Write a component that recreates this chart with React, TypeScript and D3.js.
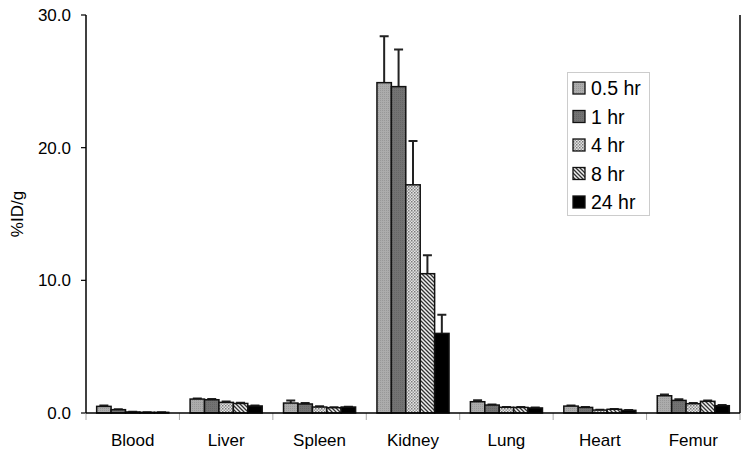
import React, { useEffect, useRef } from 'react';
import * as d3 from 'd3';

const organs = ['Blood', 'Liver', 'Spleen', 'Kidney', 'Lung', 'Heart', 'Femur'];
const times = ['0.5 hr', '1 hr', '4 hr', '8 hr', '24 hr'];

// mean %ID/g per organ, one array per time point
const hr05 = [0.5, 1.05, 0.75, 24.9, 0.85, 0.52, 1.3];
const hr1 = [0.25, 1.0, 0.68, 24.6, 0.6, 0.42, 0.95];
const hr4 = [0.08, 0.8, 0.45, 17.2, 0.43, 0.22, 0.7];
const hr8 = [0.05, 0.72, 0.4, 10.5, 0.42, 0.28, 0.88];
const hr24 = [0.05, 0.53, 0.45, 6.0, 0.38, 0.2, 0.55];

// standard deviations (upper error bar)
const sd05 = [0.07, 0.05, 0.2, 3.5, 0.12, 0.05, 0.1];
const sd1 = [0.03, 0.05, 0.08, 2.8, 0.05, 0.04, 0.08];
const sd4 = [0.01, 0.06, 0.05, 3.3, 0.03, 0.02, 0.06];
const sd8 = [0.01, 0.05, 0.04, 1.4, 0.03, 0.03, 0.07];
const sd24 = [0.01, 0.04, 0.03, 1.4, 0.03, 0.02, 0.05];

const means = [hr05, hr1, hr4, hr8, hr24];
const sds = [sd05, sd1, sd4, sd8, sd24];
const yTicks = [0, 10, 20, 30];
const fills = ['url(#p05)', 'url(#p1)', 'url(#p4)', 'url(#p8)', 'url(#p24)'];

const Chart = () => {
  const ref = useRef<SVGSVGElement | null>(null);

  useEffect(() => {
    if (!ref.current) return;
    const svg = d3.select(ref.current);
    svg.selectAll('*').remove();

    const left = 86, right = 740, top = 15, bottom = 413;
    const font = 'Liberation Sans, Arial, sans-serif';

    const defs = svg.append('defs');
    const p05 = defs.append('pattern').attr('id', 'p05').attr('patternUnits', 'userSpaceOnUse')
      .attr('width', 2).attr('height', 2);
    p05.append('rect').attr('width', 2).attr('height', 2).attr('fill', '#acacac');
    p05.append('rect').attr('width', 1).attr('height', 1).attr('fill', '#989898');

    const p1 = defs.append('pattern').attr('id', 'p1').attr('patternUnits', 'userSpaceOnUse')
      .attr('width', 2).attr('height', 2);
    p1.append('rect').attr('width', 2).attr('height', 2).attr('fill', '#737373');
    p1.append('rect').attr('width', 1).attr('height', 1).attr('fill', '#666');

    const p4 = defs.append('pattern').attr('id', 'p4').attr('patternUnits', 'userSpaceOnUse')
      .attr('width', 3).attr('height', 3);
    p4.append('rect').attr('width', 3).attr('height', 3).attr('fill', '#e4e4e4');
    p4.append('rect').attr('width', 1.5).attr('height', 1.5).attr('fill', '#7a7a7a');
    p4.append('rect').attr('x', 1.5).attr('y', 1.5).attr('width', 1.5).attr('height', 1.5).attr('fill', '#999');

    const p8 = defs.append('pattern').attr('id', 'p8').attr('patternUnits', 'userSpaceOnUse')
      .attr('width', 4).attr('height', 4);
    p8.append('rect').attr('width', 4).attr('height', 4).attr('fill', '#f0f0f0');
    p8.append('path').attr('d', 'M-1,-1 L5,5 M-1,3 L1,5 M3,-1 L5,1')
      .attr('stroke', '#333').attr('stroke-width', 1.3);

    defs.append('pattern').attr('id', 'p24').attr('patternUnits', 'userSpaceOnUse')
      .attr('width', 2).attr('height', 2)
      .append('rect').attr('width', 2).attr('height', 2).attr('fill', '#000');

    const x = d3.scaleBand().domain(organs).range([left, right]).padding(0);
    const xs = d3.scaleBand().domain(times).range([0, x.bandwidth()])
      .paddingInner(0).paddingOuter(0.74);
    const y = d3.scaleLinear().domain([0, 30]).range([bottom, top]);

    // right frame line
    svg.append('line').attr('x1', right).attr('x2', right).attr('y1', top).attr('y2', bottom)
      .attr('stroke', '#000').attr('stroke-width', 1.5);

    // y axis
    svg.append('line').attr('x1', left).attr('x2', left).attr('y1', top).attr('y2', bottom)
      .attr('stroke', '#000').attr('stroke-width', 1.5);
    const yt = svg.append('g');
    yt.selectAll('line').data(yTicks).enter().append('line')
      .attr('x1', left - 5).attr('x2', left).attr('y1', d => y(d)).attr('y2', d => y(d))
      .attr('stroke', '#000').attr('stroke-width', 1.2);
    yt.selectAll('text').data(yTicks).enter().append('text')
      .attr('x', left - 15).attr('y', d => y(d)).attr('dy', '0.35em')
      .attr('text-anchor', 'end').style('font-family', font).style('font-size', '17px')
      .text(d => d.toFixed(1));

    svg.append('text').attr('transform', `translate(23,${(top + bottom) / 2}) rotate(-90)`)
      .attr('text-anchor', 'middle').style('font-family', font).style('font-size', '17px')
      .text('%ID/g');

    // x axis category dividers
    svg.selectAll('.xtick').data(d3.range(organs.length + 1)).enter().append('line')
      .attr('class', 'xtick')
      .attr('x1', i => left + i * x.step()).attr('x2', i => left + i * x.step())
      .attr('y1', bottom).attr('y2', bottom + 7)
      .attr('stroke', '#aaa').attr('stroke-width', 1);

    svg.selectAll('.xlab').data(organs).enter().append('text')
      .attr('class', 'xlab')
      .attr('x', d => (x(d) as number) + x.bandwidth() / 2).attr('y', 446)
      .attr('text-anchor', 'middle').style('font-family', font).style('font-size', '17px')
      .text(d => d);

    // bars and error bars
    times.forEach((t, s) => {
      const g = svg.append('g');
      const rows = organs.map((o, i) => ({ o, v: means[s][i], e: sds[s][i] }));
      g.selectAll('.err').data(rows).enter().append('path')
        .attr('d', d => {
          const cx = (x(d.o) as number) + (xs(t) as number) + xs.bandwidth() / 2;
          const y1 = y(d.v + d.e);
          return `M${cx},${y(d.v)}V${y1}M${cx - 4.5},${y1}H${cx + 4.5}`;
        })
        .attr('stroke', '#222').attr('stroke-width', 2).attr('fill', 'none');
      g.selectAll('rect').data(rows).enter().append('rect')
        .attr('x', d => (x(d.o) as number) + (xs(t) as number))
        .attr('y', d => y(d.v))
        .attr('width', xs.bandwidth())
        .attr('height', d => bottom - y(d.v))
        .attr('fill', fills[s])
        .attr('stroke', '#111').attr('stroke-width', 1.5);
    });

    // x axis baseline
    svg.append('line').attr('x1', left).attr('x2', right).attr('y1', bottom).attr('y2', bottom)
      .attr('stroke', '#000').attr('stroke-width', 1.5);

    // legend
    const lg = svg.append('g');
    lg.append('rect').attr('x', 567.5).attr('y', 72.5).attr('width', 82).attr('height', 143)
      .attr('fill', '#fff').attr('stroke', '#ccc').attr('stroke-width', 1);
    times.forEach((t, s) => {
      const cy = 88 + s * 28.5;
      lg.append('rect').attr('x', 573).attr('y', cy - 6).attr('width', 12).attr('height', 12)
        .attr('fill', fills[s]).attr('stroke', '#111').attr('stroke-width', 1.3);
      lg.append('text').attr('x', 591).attr('y', cy).attr('dy', '0.36em')
        .style('font-family', font).style('font-size', '19.5px').text(t);
    });
  }, []);

  return <svg ref={ref} width={750} height={462} style={{ display: 'block', background: '#fff' }} />;
};

export default function App() {
  return (
    <div style={{ position: 'absolute', left: 0, top: 0 }}>
      <Chart />
    </div>
  );
}
